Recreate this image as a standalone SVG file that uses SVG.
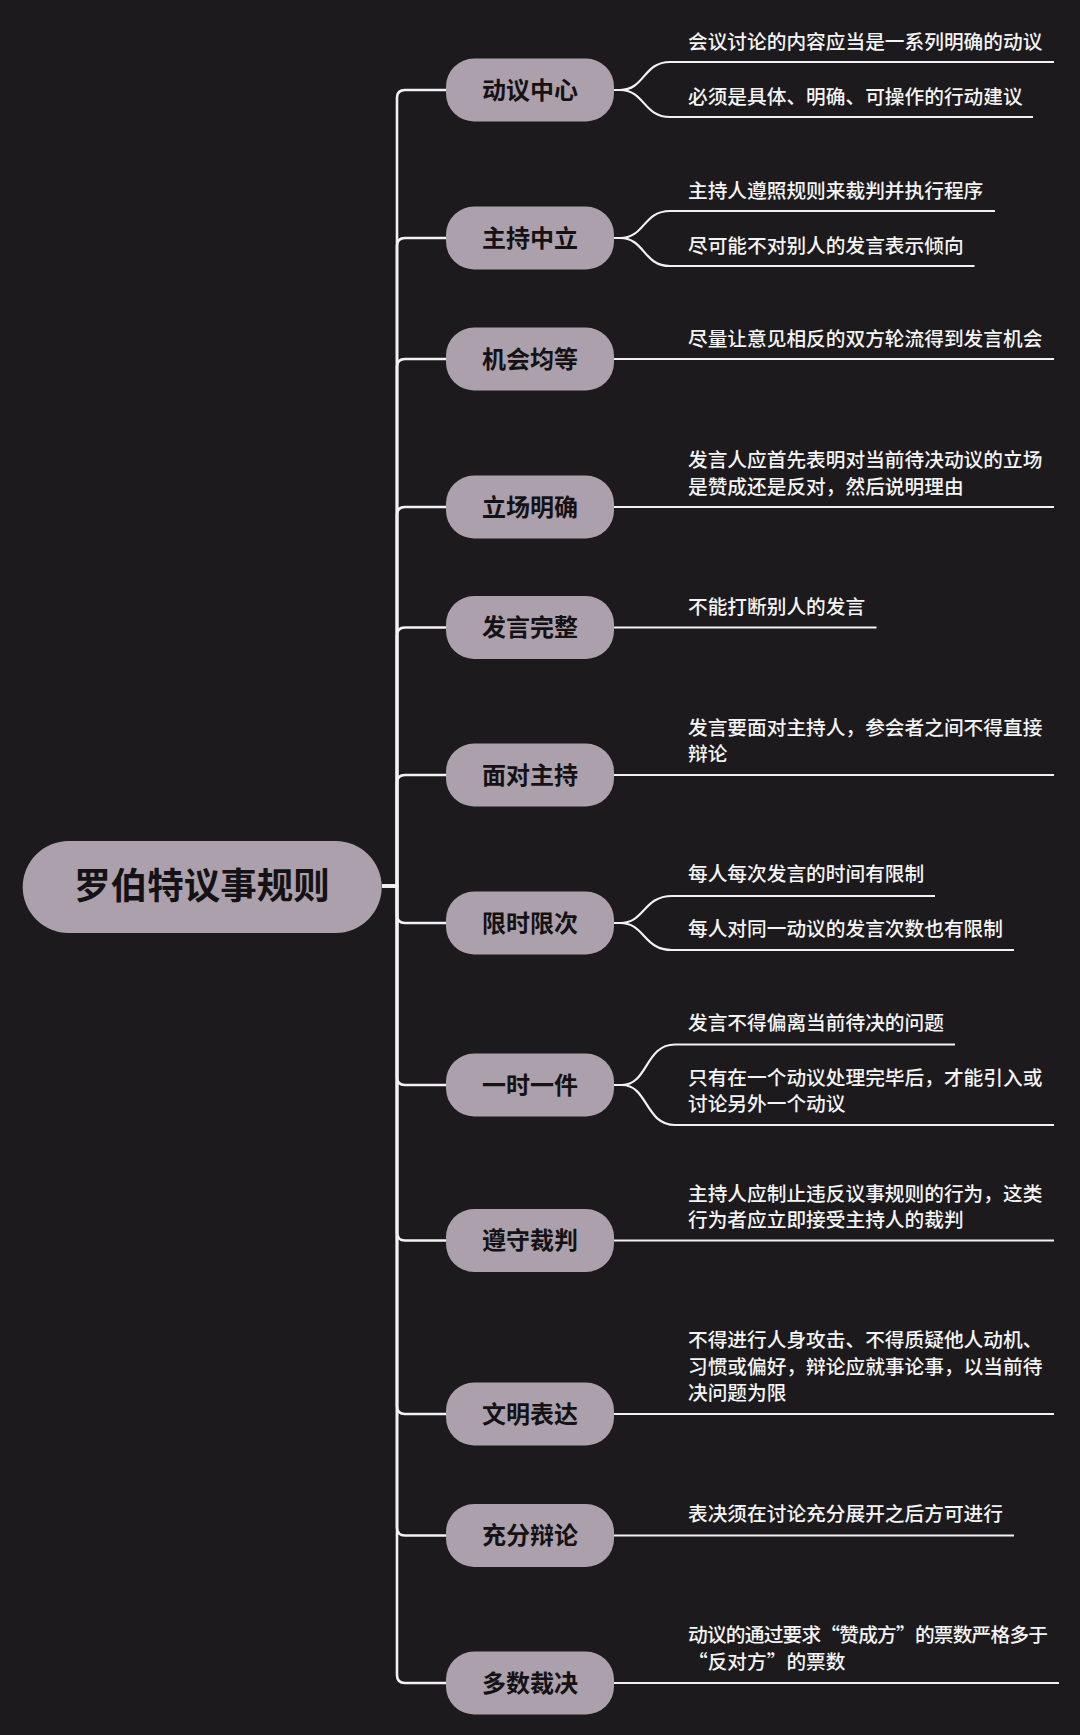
<svg xmlns="http://www.w3.org/2000/svg" width="1080" height="1735" viewBox="0 0 1080 1735">
<style>
.bg{fill:#1c1a1d}
.node{fill:#aba0ab}
.nt{font-family:"Noto Sans CJK SC","Noto Sans",sans-serif;font-weight:bold;font-size:24px;fill:#141214;text-anchor:middle}
.rt{font-family:"Noto Sans CJK SC","Noto Sans",sans-serif;font-weight:bold;font-size:36.5px;fill:#141214;text-anchor:middle}
.lt{font-family:"Noto Sans CJK SC","Noto Sans",sans-serif;font-weight:500;font-size:19.7px;fill:#f4f4f4}
.trunk{fill:none;stroke:#f2f2f2;stroke-width:2.6;stroke-linejoin:round}
.leaf{fill:none;stroke:#f2f2f2;stroke-width:2.2}
</style>
<rect class="bg" x="0" y="0" width="1080" height="1735"/>
<g id="connectors">
<path class="trunk" d="M382 886 H397 V98 Q397 90 405 90 H446"/>
<path class="trunk" d="M382 886 H397 V246 Q397 238 405 238 H446"/>
<path class="trunk" d="M382 886 H397 V367 Q397 359 405 359 H446"/>
<path class="trunk" d="M382 886 H397 V515 Q397 507 405 507 H446"/>
<path class="trunk" d="M382 886 H397 V635.5 Q397 627.5 405 627.5 H446"/>
<path class="trunk" d="M382 886 H397 V783 Q397 775 405 775 H446"/>
<path class="trunk" d="M382 886 H397 V915 Q397 923 405 923 H446"/>
<path class="trunk" d="M382 886 H397 V1077 Q397 1085 405 1085 H446"/>
<path class="trunk" d="M382 886 H397 V1232.5 Q397 1240.5 405 1240.5 H446"/>
<path class="trunk" d="M382 886 H397 V1406 Q397 1414 405 1414 H446"/>
<path class="trunk" d="M382 886 H397 V1527.5 Q397 1535.5 405 1535.5 H446"/>
<path class="trunk" d="M382 886 H397 V1675 Q397 1683 405 1683 H446"/>
<path class="leaf" d="M613 90 H620 C645 90 643 62 670 62 H1054"/>
<path class="leaf" d="M613 90 H620 C645 90 643 117 670 117 H1033"/>
<path class="leaf" d="M613 238 H620 C645 238 643 211 670 211 H995"/>
<path class="leaf" d="M613 238 H620 C645 238 643 266 670 266 H974.5"/>
<path class="leaf" d="M613 359 H1054"/>
<path class="leaf" d="M613 507 H1054"/>
<path class="leaf" d="M613 627.5 H876.5"/>
<path class="leaf" d="M613 775 H1054"/>
<path class="leaf" d="M613 923 H620 C645 923 643 896 672 896 H935"/>
<path class="leaf" d="M613 923 H620 C645 923 643 950 672 950 H1014"/>
<path class="leaf" d="M613 1085 H622 C648 1085 645 1044.5 675 1044.5 H955"/>
<path class="leaf" d="M613 1085 H622 C648 1085 645 1125 675 1125 H1054"/>
<path class="leaf" d="M613 1240.5 H1054"/>
<path class="leaf" d="M613 1414 H1054"/>
<path class="leaf" d="M613 1535.5 H1014"/>
<path class="leaf" d="M613 1683 H1059"/>
</g>
<g id="root">
<rect class="node" x="22.7" y="841" width="359" height="92" rx="46"/>
<text class="rt" x="202" y="899">罗伯特议事规则</text>
</g>
<g id="n1">
<rect class="node" x="446" y="58.5" width="168" height="63" rx="28"/>
<text class="nt" x="530" y="98.5">动议中心</text>
<text class="lt" x="688" y="48.5">会议讨论的内容应当是一系列明确的动议</text>
<text class="lt" x="688" y="103.5">必须是具体、明确、可操作的行动建议</text>
</g>
<g id="n2">
<rect class="node" x="446" y="206.5" width="168" height="63" rx="28"/>
<text class="nt" x="530" y="246.5">主持中立</text>
<text class="lt" x="688" y="197.5">主持人遵照规则来裁判并执行程序</text>
<text class="lt" x="688" y="252.5">尽可能不对别人的发言表示倾向</text>
</g>
<g id="n3">
<rect class="node" x="446" y="327.5" width="168" height="63" rx="28"/>
<text class="nt" x="530" y="367.5">机会均等</text>
<text class="lt" x="688" y="345.5">尽量让意见相反的双方轮流得到发言机会</text>
</g>
<g id="n4">
<rect class="node" x="446" y="475.5" width="168" height="63" rx="28"/>
<text class="nt" x="530" y="515.5">立场明确</text>
<text class="lt" x="688" y="467">发言人应首先表明对当前待决动议的立场</text>
<text class="lt" x="688" y="493.5">是赞成还是反对，然后说明理由</text>
</g>
<g id="n5">
<rect class="node" x="446" y="596" width="168" height="63" rx="28"/>
<text class="nt" x="530" y="636">发言完整</text>
<text class="lt" x="688" y="614">不能打断别人的发言</text>
</g>
<g id="n6">
<rect class="node" x="446" y="743.5" width="168" height="63" rx="28"/>
<text class="nt" x="530" y="783.5">面对主持</text>
<text class="lt" x="688" y="734.5">发言要面对主持人，参会者之间不得直接</text>
<text class="lt" x="688" y="761">辩论</text>
</g>
<g id="n7">
<rect class="node" x="446" y="891.5" width="168" height="63" rx="28"/>
<text class="nt" x="530" y="931.5">限时限次</text>
<text class="lt" x="688" y="881">每人每次发言的时间有限制</text>
<text class="lt" x="688" y="935.5">每人对同一动议的发言次数也有限制</text>
</g>
<g id="n8">
<rect class="node" x="446" y="1053.5" width="168" height="63" rx="28"/>
<text class="nt" x="530" y="1093.5">一时一件</text>
<text class="lt" x="688" y="1030">发言不得偏离当前待决的问题</text>
<text class="lt" x="688" y="1084.5">只有在一个动议处理完毕后，才能引入或</text>
<text class="lt" x="688" y="1111">讨论另外一个动议</text>
</g>
<g id="n9">
<rect class="node" x="446" y="1209" width="168" height="63" rx="28"/>
<text class="nt" x="530" y="1249">遵守裁判</text>
<text class="lt" x="688" y="1200.5">主持人应制止违反议事规则的行为，这类</text>
<text class="lt" x="688" y="1227">行为者应立即接受主持人的裁判</text>
</g>
<g id="n10">
<rect class="node" x="446" y="1382.5" width="168" height="63" rx="28"/>
<text class="nt" x="530" y="1422.5">文明表达</text>
<text class="lt" x="688" y="1347">不得进行人身攻击、不得质疑他人动机、</text>
<text class="lt" x="688" y="1373.5">习惯或偏好，辩论应就事论事，以当前待</text>
<text class="lt" x="688" y="1400">决问题为限</text>
</g>
<g id="n11">
<rect class="node" x="446" y="1504" width="168" height="63" rx="28"/>
<text class="nt" x="530" y="1544">充分辩论</text>
<text class="lt" x="688" y="1521">表决须在讨论充分展开之后方可进行</text>
</g>
<g id="n12">
<rect class="node" x="446" y="1651.5" width="168" height="63" rx="28"/>
<text class="nt" x="530" y="1691.5">多数裁决</text>
<text class="lt" x="688" y="1642" textLength="360" lengthAdjust="spacing">动议的通过要求“赞成方”的票数严格多于</text>
<text class="lt" x="688" y="1668.5">“反对方”的票数</text>
</g>
</svg>
